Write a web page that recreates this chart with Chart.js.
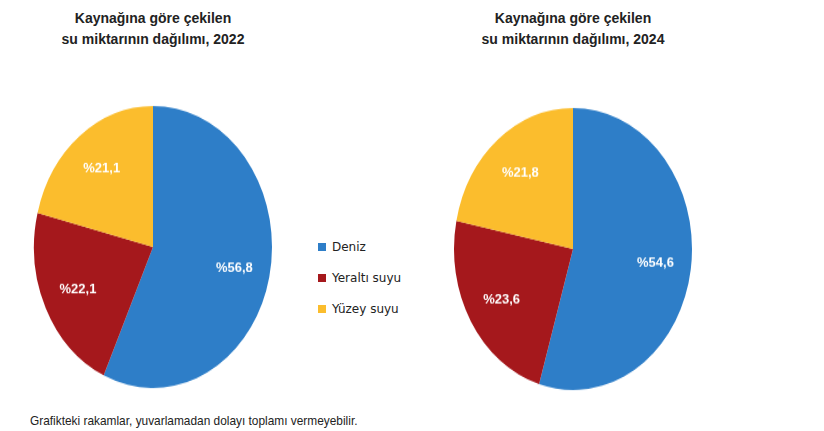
<!DOCTYPE html>
<html><head><meta charset="utf-8">
<script src="https://cdn.jsdelivr.net/npm/chart.js@4"></script>
<style>
body{margin:0;width:824px;height:431px;background:#fff;position:relative;font-family:"Liberation Sans",Arial,sans-serif;overflow:hidden}
.t{position:absolute;width:300px;text-align:center;font-weight:bold;font-size:14px;line-height:21px;color:#222;font-family:"Liberation Sans Narrow","Liberation Sans",sans-serif}
.pw{position:absolute;width:240px;height:240px;transform-origin:center center;transform:scaleY(1.185)}
.lg{position:absolute;left:318px;font-size:12px;color:#222;font-family:"DejaVu Sans",sans-serif}
.lg span{display:inline-block;width:8px;height:8px;margin-right:6px}
.fn{position:absolute;left:30px;top:413px;font-size:13.5px;color:#222;font-family:"Liberation Sans Narrow","Liberation Sans",sans-serif;transform:scaleX(0.88);transform-origin:left center}
</style></head><body>
<div class="t" style="left:3px;top:8px">Kaynağına göre çekilen<br>su miktarının dağılımı, 2022</div>
<div class="t" style="left:423px;top:8px">Kaynağına göre çekilen<br>su miktarının dağılımı, 2024</div>
<div class="pw" style="left:33px;top:127px"><canvas id="c1" width="240" height="240"></canvas></div>
<div class="pw" style="left:453px;top:129px"><canvas id="c2" width="240" height="240"></canvas></div>
<div id="legend"></div>
<div class="fn">Grafikteki rakamlar, yuvarlamadan dolayı toplamı vermeyebilir.</div>
<script>
const categories=["Deniz","Yeraltı suyu","Yüzey suyu"];
const values2022=[56.8,22.1,21.1];
const values2024=[54.6,23.6,21.8];
const colors=["#2e7ec8","#a5181c","#fbbd2d"];
const lg=document.getElementById('legend');
categories.forEach((c,i)=>{const d=document.createElement('div');d.className='lg';d.style.top=(240+i*31)+'px';d.innerHTML='<span style="background:'+colors[i]+'"></span>'+c;lg.appendChild(d);});
const labelPlugin={id:'lbl',afterDatasetsDraw(chart){const ctx=chart.ctx;const meta=chart.getDatasetMeta(0);
meta.data.forEach((a,i)=>{const mid=(a.startAngle+a.endAngle)/2;const r=a.outerRadius*0.7;
const x=a.x+Math.cos(mid)*r,y=a.y+Math.sin(mid)*r;ctx.save();ctx.translate(x,y);ctx.scale(1,1/1.185);
ctx.fillStyle='#fff';ctx.font='bold 13px "Liberation Sans", sans-serif';ctx.textAlign='center';ctx.textBaseline='middle';
ctx.fillText('%'+chart.data.datasets[0].data[i].toFixed(1).replace('.',','),0,0);ctx.restore();});}};
function mk(id,vals){new Chart(document.getElementById(id),{type:'pie',data:{labels:categories,datasets:[{data:vals,backgroundColor:colors,borderWidth:0}]},
options:{responsive:false,animation:false,layout:{padding:1},plugins:{legend:{display:false},tooltip:{enabled:false}}},plugins:[labelPlugin]});}
mk('c1',values2022);mk('c2',values2024);
</script></body></html>
